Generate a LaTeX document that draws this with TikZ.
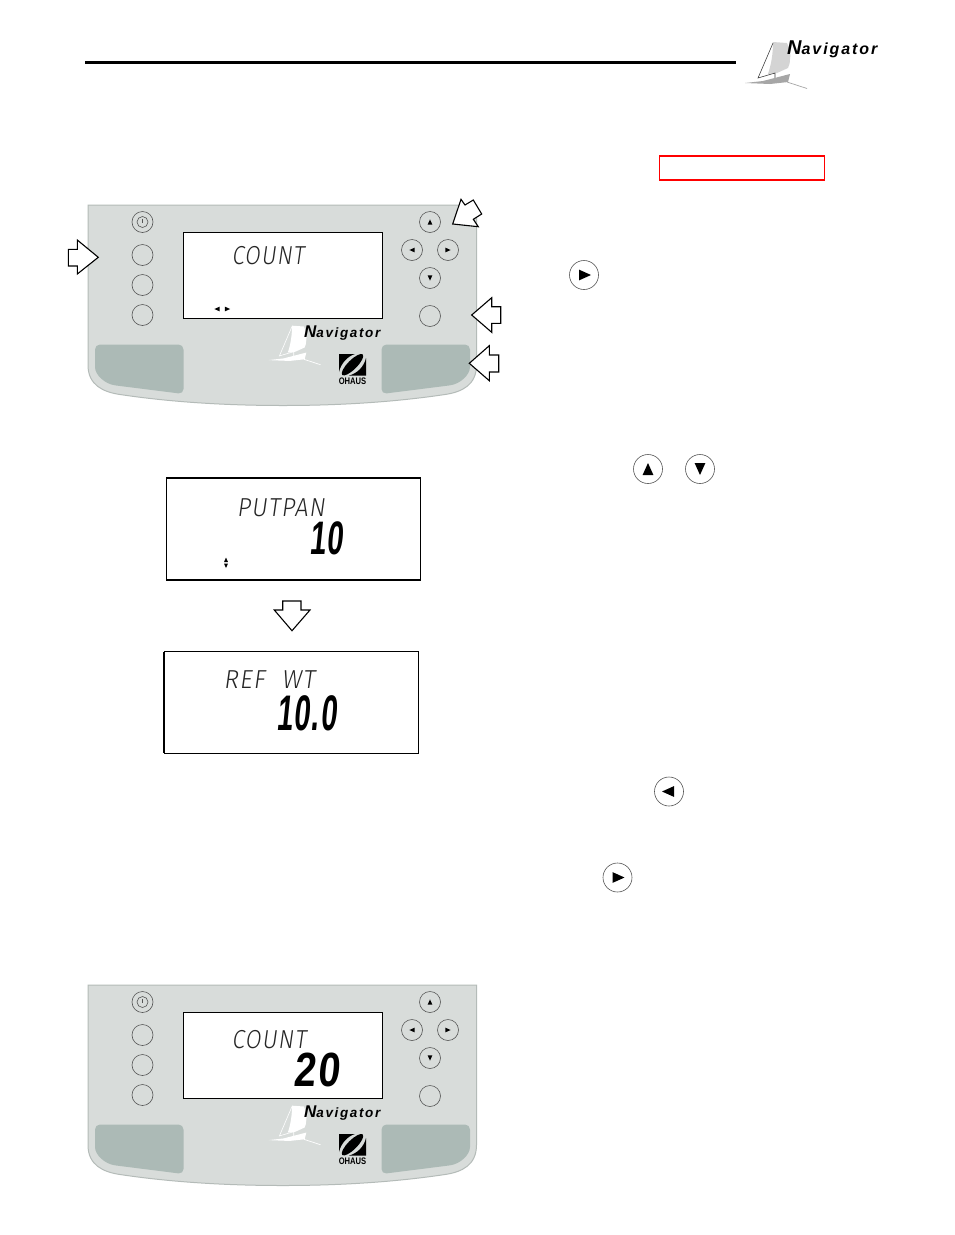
\documentclass[tikz,border=0pt]{standalone}
\usepackage{fontspec}
\setmainfont{Liberation Sans}
\newfontfamily\navfont[LetterSpace=12]{Liberation Sans}
\newfontfamily\lcdthin[LetterSpace=5]{Fira Sans Light}
\newfontfamily\lcdbig[LetterSpace=4]{Liberation Sans}
\definecolor{panelc}{HTML}{D8DCDA}
\definecolor{edgec}{HTML}{B4BBB8}
\definecolor{wellc}{HTML}{ACBAB6}
\definecolor{ringc}{HTML}{555555}
\definecolor{sailc}{HTML}{D4D4D4}
\tikzset{
  btn/.style={draw=ringc,line width=0.6pt,fill=none},
  openarrow/.style={draw=black,line width=1.1pt,fill=white,line join=miter},
  lcdbox/.style={draw=black,fill=white,line width=1pt},
  lcdsmall/.style={font=\lcdthin\fontsize{26}{26}\selectfont,text=black!85,inner sep=0pt,xslant=0.14,transform shape},
  lcdlarge/.style={inner sep=0pt,xslant=0.1,transform shape},
  tri/.style={fill=black,draw=none},
}
\newcommand\triR[3]{\fill[tri] (#1-#3,#2-#3*0.9) -- (#1+#3,#2) -- (#1-#3,#2+#3*0.9) -- cycle;}
\newcommand\triL[3]{\fill[tri] (#1+#3,#2-#3*0.9) -- (#1-#3,#2) -- (#1+#3,#2+#3*0.9) -- cycle;}
\newcommand\triU[3]{\fill[tri] (#1-#3*0.9,#2+#3) -- (#1,#2-#3) -- (#1+#3*0.9,#2+#3) -- cycle;}
\newcommand\triD[3]{\fill[tri] (#1-#3*0.9,#2-#3) -- (#1,#2+#3) -- (#1+#3*0.9,#2-#3) -- cycle;}
% sail mark, local origin at its top-left
\newcommand\sailmark[3]{% fill, line, hull
  \fill[#1] (28,-1) -- (42,0) .. controls (45,6) and (46,12) .. (45,16) .. controls (45,20) and (44,23) .. (43,25) -- (32,30) -- (23,31) .. controls (26,22) and (28,12) .. (28,-1) -- cycle;
  \draw[#2,line width=0.6pt] (28,0) -- (13,35) -- (30,30) -- (30,36);
  \fill[#3] (0,40) -- (18,38) -- (45,31) -- (43,39) -- (25,41) -- cycle;
  \draw[#3,line width=0.7pt] (42,39) -- (62,45.5);
}
\newcommand\panelunit[1]{%
\begin{scope}[shift={(0,#1)}]
  \fill[panelc] (88,205) -- (476.5,205) -- (476.5,365) .. controls (476.5,385) and (462,392) .. (445,394.5) .. controls (395,402) and (340,405.5) .. (283,405.5) .. controls (225,405.5) and (170,402) .. (120,394.5) .. controls (103,392) and (88,385) .. (88,365) -- cycle;
  \draw[edgec,line width=1pt] (88,205) -- (476.5,205) -- (476.5,365) .. controls (476.5,385) and (462,392) .. (445,394.5) .. controls (395,402) and (340,405.5) .. (283,405.5) .. controls (225,405.5) and (170,402) .. (120,394.5) .. controls (103,392) and (88,385) .. (88,365) -- cycle;
  \fill[wellc,rounded corners=5pt] (95,344.5) -- (183.5,344.5) -- (183.5,394) -- (120,386) .. controls (105,384) and (95,375) .. (95,362) -- cycle;
  \fill[wellc,rounded corners=5pt] (470,344.5) -- (381.5,344.5) -- (381.5,394) -- (445,386) .. controls (460,384) and (470,375) .. (470,362) -- cycle;
  \draw[btn] (142.5,222) circle[radius=10.5pt] (142.5,222) circle[radius=5.5pt];
  \draw[btn] (142.5,218.5) -- (142.5,223);
  \foreach \yy in {255,285,315} {\draw[btn] (142.5,\yy) circle[radius=10.5pt];}
  \draw[btn] (430,222) circle[radius=10.5pt];
  \draw[btn] (412,250) circle[radius=10.5pt];
  \draw[btn] (448,250) circle[radius=10.5pt];
  \draw[btn] (430,278) circle[radius=10.5pt];
  \draw[btn] (430,316) circle[radius=10.5pt];
  \triU{430}{222}{2.6}\triL{412}{250}{2.6}\triR{448}{250}{2.6}\triD{430}{278}{2.6}
  \draw[lcdbox] (183.5,232.5) rectangle (382.5,318.5);
  \begin{scope}[shift={(268.5,326.5)},scale=0.84]
    \sailmark{white}{white}{white}
  \end{scope}
  \node[font=\navfont\bfseries\itshape,anchor=base west,inner sep=0pt] at (304,337.5) {{\fontsize{17}{17}\selectfont N}{\fontsize{13.5}{14}\selectfont avigator}};
  \fill[black] (339,354) -- (355,354) .. controls (348,356) and (341,363) .. (339,372) -- cycle;
  \fill[black] (366,375.5) -- (366,358) .. controls (364,367) and (357,373.5) .. (349,375.5) -- cycle;
  \fill[black,rotate around={45:(352.5,364.7)}] (352.5,364.7) ellipse[x radius=14.5pt,y radius=4.6pt];
  \node[font=\bfseries\fontsize{9.5}{10}\selectfont,xscale=0.8,inner sep=0pt,transform shape] (ohaus#1) at (352.5,381) {OHAUS};
\end{scope}}
\begin{document}
\begin{tikzpicture}[x=1pt,y=-1pt]
\useasboundingbox (0,0) rectangle (954,1235);
\fill[white] (0,0) rectangle (954,1235);
% header
\draw[black,line width=3pt] (85,62) -- (736,62);
\begin{scope}[shift={(745,43)}]
  \sailmark{sailc}{black!75}{black!35}
\end{scope}
\node[font=\navfont\bfseries\itshape,anchor=base west,inner sep=0pt] (navtop) at (787,54) {{\fontsize{20}{20}\selectfont N}{\fontsize{16}{16}\selectfont avigator}};
% red box
\draw[red,line width=1.2pt] (659.5,156) rectangle (824.5,180);
% panels
\panelunit{0}
\panelunit{780}
\node[lcdsmall,xscale=0.86] (lcdA) at (269,255.5) {COUNT};
\triL{217}{309}{2.6}\triR{227.5}{309}{2.6}
\node[lcdsmall,xscale=0.88] (lcdD) at (270,1039.5) {COUNT};
\node[lcdlarge,xscale=0.82,font=\lcdbig\bfseries\fontsize{48}{48}\selectfont] (lcdE) at (318,1070) {20};
% open arrows
\draw[openarrow] (68.3,249.3) -- (77.3,249.3) -- (77.3,240) -- (98.3,257.3) -- (77.3,274) -- (77.3,266) -- (68.3,266) -- cycle;
\draw[openarrow] (452.7,224) -- (461,199.3) -- (465,205) -- (473.3,200) -- (481.7,214) -- (473.3,219.3) -- (478.3,226.7) -- cycle;
\draw[openarrow] (471.7,315) -- (491.7,297.7) -- (491.7,306.7) -- (500.7,306.7) -- (500.7,323.3) -- (491.7,323.3) -- (491.7,332.3) -- cycle;
\draw[openarrow] (469.3,363.3) -- (489.3,345.7) -- (489.3,355) -- (498.7,355) -- (498.7,372) -- (489.3,372) -- (489.3,380.7) -- cycle;
\draw[openarrow] (282.7,601) -- (301,601) -- (301,610) -- (310,610) -- (292,630.7) -- (274.3,610) -- (282.7,610) -- cycle;
% displays
\draw[black,line width=1.6pt] (166.5,478) rectangle (420.5,580);
\node[lcdsmall,xscale=0.91] (lcdB) at (282,508) {PUTPAN};
\node[lcdlarge,xscale=0.62,font=\lcdbig\bfseries\fontsize{47}{47}\selectfont] (lcdBb) at (328,538) {10};
\triU{226}{559.8}{2.2}\triD{226}{565.8}{2.2}
\draw[black,line width=1pt] (164,651.5) rectangle (418.5,753);
\draw[black,line width=1.6pt] (164,651.5) -- (164,753);
\node[lcdsmall,xscale=0.94] (lcdC) at (270.5,680) {REF\hspace{18pt}WT};
\node[lcdlarge,xscale=0.58,font=\lcdbig\bfseries\fontsize{50}{50}\selectfont] (lcdCb) at (308,713) {10.0};
% page buttons
\foreach \cx/\cy in {584/275,648/469,700/469,669/791.5,617.5/877.5} {\draw[btn] (\cx,\cy) circle[radius=14.5pt];}
\triR{585}{275}{6}\triU{648}{469}{6}\triD{700}{469}{6}\triL{668}{791.5}{6}\triR{618.5}{877.5}{6}
\end{tikzpicture}
\end{document}
